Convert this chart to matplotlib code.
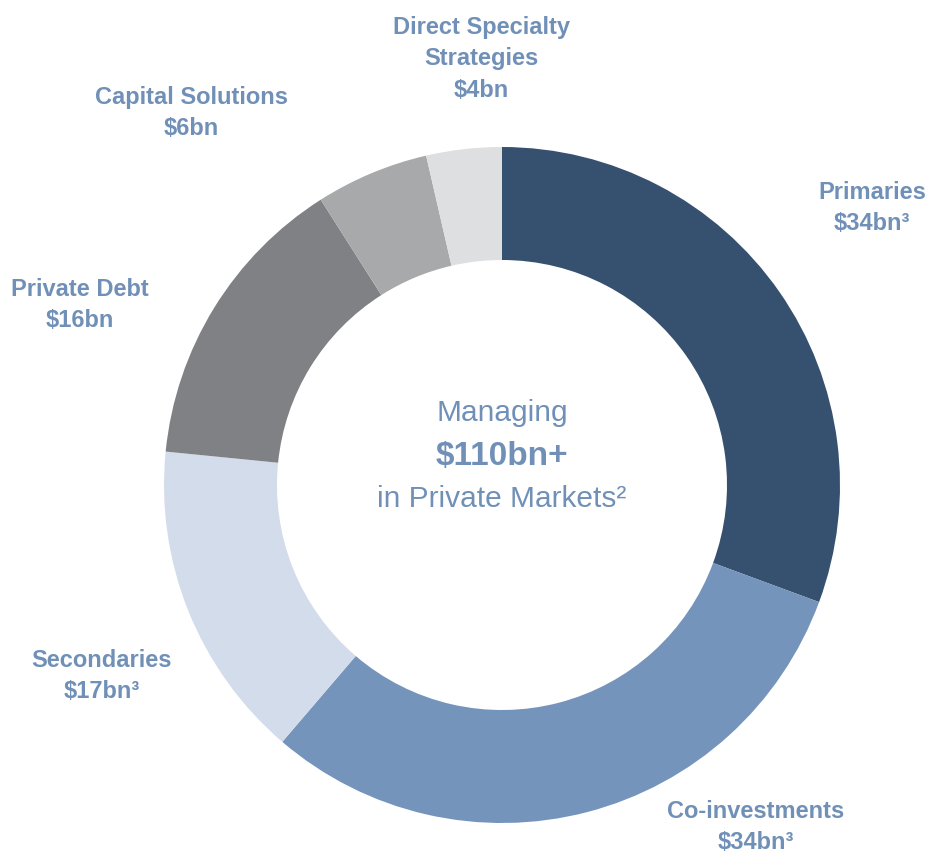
"""Private markets AUM donut."""
import matplotlib.pyplot as plt

segments = ["Primaries", "Co-investments", "Secondaries", "Private Debt",
            "Capital Solutions", "Direct Specialty Strategies"]
values = [34, 34, 17, 16, 6, 4]
labels = ["Primaries\n$34bn³", "Co-investments\n$34bn³", "Secondaries\n$17bn³",
          "Private Debt\n$16bn", "Capital Solutions\n$6bn",
          "Direct Specialty\nStrategies\n$4bn"]
colors = ["#36516F", "#7594BB", "#D3DCEA", "#808184", "#A8A9AB", "#DEDFE0"]

text_color = "#7090B7"
narrow = ["Liberation Sans Narrow", "Liberation Sans", "DejaVu Sans"]
regular = ["Liberation Sans", "DejaVu Sans"]

width, height = 930, 855
dpi = 100
fig = plt.figure(figsize=(width / dpi, height / dpi), dpi=dpi)
ax = fig.add_axes([0, 0, 1, 1])

cx, cy = 502, height - 485
r_out, r_in = 338, 225

ax.pie(values, colors=colors, startangle=90, counterclock=False,
       center=(cx, cy), radius=r_out, frame=True,
       wedgeprops=dict(width=r_out - r_in, linewidth=0))
ax.set_xlim(0, width)
ax.set_ylim(0, height)
ax.set_aspect("equal")
ax.set_axis_off()

# label anchor positions (pixel, from top)
label_pos = [(872, 208), (756, 827), (102, 676), (80, 305), (191, 113), (481, 59)]
for text, (px, py) in zip(labels, label_pos):
    ax.text(px, height - py, text, ha="center", va="center", fontsize=17,
            fontweight="bold", color=text_color, family=narrow,
            linespacing=1.48)

ax.text(cx, height - 413, "Managing", ha="center", va="center",
        fontsize=21.5, color=text_color, family=regular)
ax.text(cx, height - 456, "$110bn+", ha="center", va="center",
        fontsize=24, fontweight="bold", color=text_color, family=narrow)
ax.text(cx, height - 499, "in Private Markets²", ha="center", va="center",
        fontsize=21.5, color=text_color, family=regular)

fig.savefig("out.png", dpi=dpi, facecolor="white")
